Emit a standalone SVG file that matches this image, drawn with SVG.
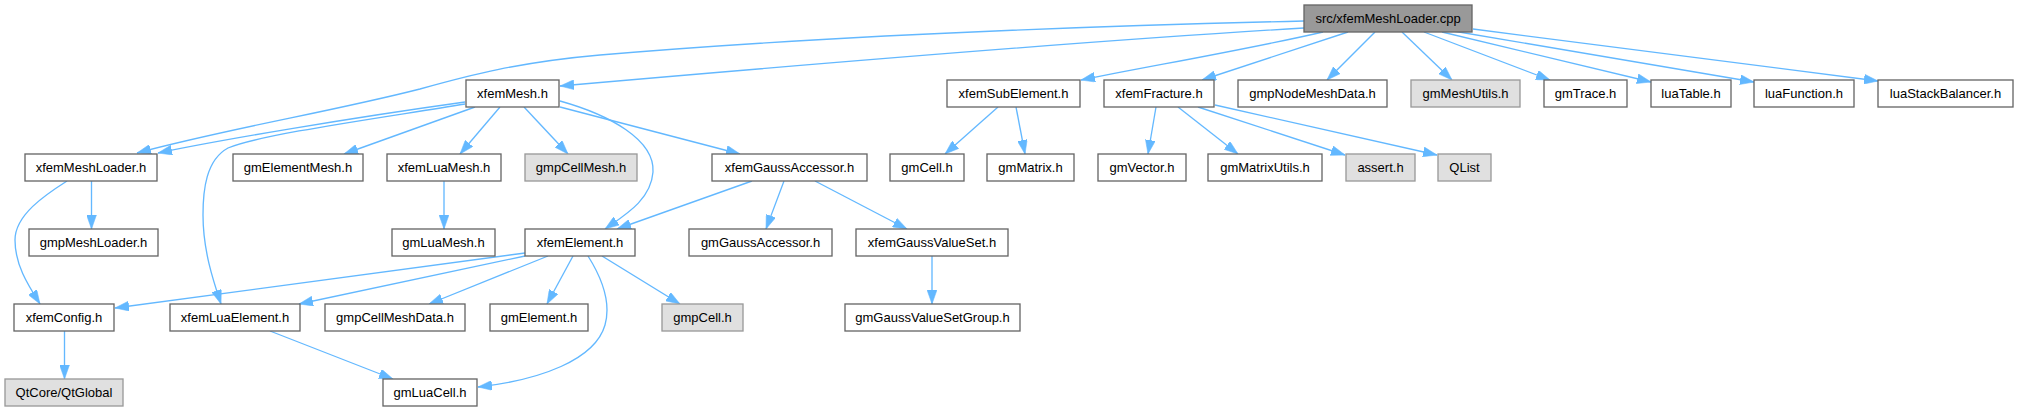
<svg xmlns="http://www.w3.org/2000/svg" width="2018" height="411" viewBox="0 0 2018 411">
<style>
.n rect{fill:#ffffff;stroke:#666666;stroke-width:1.33}
.n.ext rect{fill:#e0e0e0;stroke:#999999}
.n.root rect{fill:#999999;stroke:#666666}
.n text{font-family:"Liberation Sans",Arial,sans-serif;font-size:13px;fill:#000000;text-anchor:middle}
#edges path{fill:none;stroke:#63b8ff;stroke-width:1.33;marker-end:url(#arr)}
</style>
<defs>
<marker id="arr" markerUnits="userSpaceOnUse" markerWidth="14" markerHeight="10" viewBox="0 0 13.3 9.4" refX="13.3" refY="4.7" orient="auto">
<path d="M0,0 L13.3,4.7 L0,9.4 z" fill="#63b8ff" stroke="#63b8ff" stroke-width="0.5"/>
</marker>
</defs>
<rect width="2018" height="411" fill="#ffffff"/>
<g id="edges">
<path d="M1304,21 C1050,27 800,38 600,55 C520,62 470,75 420,89 C330,112 230,128 137,153"/>
<path d="M1304,28 C1100,40 800,65 560,86"/>
<path d="M1323,32 C1250,49 1150,66 1081,80"/>
<path d="M1348,32 L1202,80"/>
<path d="M1375,32 L1327,80"/>
<path d="M1402,32 L1452,80"/>
<path d="M1424,32 L1550,80"/>
<path d="M1442,32 L1651,82"/>
<path d="M1453,31 L1754,82"/>
<path d="M1473,29 L1878,81"/>
<path d="M465,102 C350,118 220,140 158,153"/>
<path d="M465,104 C380,118 262,134 228,148 C206,160 203,190 203,215 C203,250 213,280 221,304"/>
<path d="M475,107 L344,154"/>
<path d="M500,107 L460,154"/>
<path d="M524,107 L568,154"/>
<path d="M560,101 C610,115 655,140 653,172 C651,200 625,215 605,229"/>
<path d="M560,107 L740,154"/>
<path d="M91.5,181 L91.5,229"/>
<path d="M67,181 C45,195 15,215 15,240 C15,265 28,285 40,304"/>
<path d="M444,181 L444,229"/>
<path d="M752,181 L617,229"/>
<path d="M784,181 L766,229"/>
<path d="M815,181 L907,229"/>
<path d="M998,107 L945,154"/>
<path d="M1016,107 L1025,154"/>
<path d="M1156,107 L1148,154"/>
<path d="M1178,107 L1238,154"/>
<path d="M1198,107 L1345,155"/>
<path d="M1215,105 L1437,155"/>
<path d="M525,253 L115,308"/>
<path d="M525,256 L299,304"/>
<path d="M548,256 L429,304"/>
<path d="M573,256 L547,304"/>
<path d="M602,256 L680,304"/>
<path d="M588,256 C600,275 612,300 605,325 C595,360 540,380 478,387"/>
<path d="M270,331 L393,379"/>
<path d="M64.5,331 L64.5,379"/>
<path d="M932,256 L932,304"/>
</g>
<g id="node-root" class="n root"><rect x="1304" y="5" width="168" height="27"/><text x="1388" y="23">src/xfemMeshLoader.cpp</text></g>
<g id="node-xfemMesh" class="n"><rect x="466" y="80" width="93" height="27"/><text x="512.5" y="98">xfemMesh.h</text></g>
<g id="node-xfemSubElement" class="n"><rect x="947" y="80" width="133" height="27"/><text x="1013.5" y="98">xfemSubElement.h</text></g>
<g id="node-xfemFracture" class="n"><rect x="1104" y="80" width="110" height="27"/><text x="1159" y="98">xfemFracture.h</text></g>
<g id="node-gmpNodeMeshData" class="n"><rect x="1238" y="80" width="149" height="27"/><text x="1312.5" y="98">gmpNodeMeshData.h</text></g>
<g id="node-gmMeshUtils" class="n ext"><rect x="1411" y="80" width="109" height="27"/><text x="1465.5" y="98">gmMeshUtils.h</text></g>
<g id="node-gmTrace" class="n"><rect x="1544" y="80" width="83" height="27"/><text x="1585.5" y="98">gmTrace.h</text></g>
<g id="node-luaTable" class="n"><rect x="1651" y="80" width="80" height="27"/><text x="1691" y="98">luaTable.h</text></g>
<g id="node-luaFunction" class="n"><rect x="1754" y="80" width="100" height="27"/><text x="1804" y="98">luaFunction.h</text></g>
<g id="node-luaStackBalancer" class="n"><rect x="1878" y="80" width="135" height="27"/><text x="1945.5" y="98">luaStackBalancer.h</text></g>
<g id="node-xfemMeshLoader" class="n"><rect x="25" y="154" width="132" height="27"/><text x="91" y="172">xfemMeshLoader.h</text></g>
<g id="node-gmElementMesh" class="n"><rect x="233" y="154" width="130" height="27"/><text x="298" y="172">gmElementMesh.h</text></g>
<g id="node-xfemLuaMesh" class="n"><rect x="387" y="154" width="114" height="27"/><text x="444" y="172">xfemLuaMesh.h</text></g>
<g id="node-gmpCellMesh" class="n ext"><rect x="525" y="154" width="112" height="27"/><text x="581" y="172">gmpCellMesh.h</text></g>
<g id="node-xfemGaussAccessor" class="n"><rect x="712" y="154" width="155" height="27"/><text x="789.5" y="172">xfemGaussAccessor.h</text></g>
<g id="node-gmCell" class="n"><rect x="890" y="154" width="74" height="27"/><text x="927" y="172">gmCell.h</text></g>
<g id="node-gmMatrix" class="n"><rect x="987" y="154" width="87" height="27"/><text x="1030.5" y="172">gmMatrix.h</text></g>
<g id="node-gmVector" class="n"><rect x="1098" y="154" width="88" height="27"/><text x="1142" y="172">gmVector.h</text></g>
<g id="node-gmMatrixUtils" class="n"><rect x="1208" y="154" width="114" height="27"/><text x="1265" y="172">gmMatrixUtils.h</text></g>
<g id="node-assert" class="n ext"><rect x="1346" y="154" width="69" height="27"/><text x="1380.5" y="172">assert.h</text></g>
<g id="node-QList" class="n ext"><rect x="1438" y="154" width="53" height="27"/><text x="1464.5" y="172">QList</text></g>
<g id="node-gmpMeshLoader" class="n"><rect x="29" y="229" width="129" height="27"/><text x="93.5" y="247">gmpMeshLoader.h</text></g>
<g id="node-gmLuaMesh" class="n"><rect x="392" y="229" width="103" height="27"/><text x="443.5" y="247">gmLuaMesh.h</text></g>
<g id="node-xfemElement" class="n"><rect x="525" y="229" width="110" height="27"/><text x="580" y="247">xfemElement.h</text></g>
<g id="node-gmGaussAccessor" class="n"><rect x="689" y="229" width="143" height="27"/><text x="760.5" y="247">gmGaussAccessor.h</text></g>
<g id="node-xfemGaussValueSet" class="n"><rect x="856" y="229" width="152" height="27"/><text x="932" y="247">xfemGaussValueSet.h</text></g>
<g id="node-xfemConfig" class="n"><rect x="14" y="304" width="100" height="27"/><text x="64" y="322">xfemConfig.h</text></g>
<g id="node-xfemLuaElement" class="n"><rect x="170" y="304" width="130" height="27"/><text x="235" y="322">xfemLuaElement.h</text></g>
<g id="node-gmpCellMeshData" class="n"><rect x="325" y="304" width="140" height="27"/><text x="395" y="322">gmpCellMeshData.h</text></g>
<g id="node-gmElement" class="n"><rect x="490" y="304" width="98" height="27"/><text x="539" y="322">gmElement.h</text></g>
<g id="node-gmpCell" class="n ext"><rect x="662" y="304" width="81" height="27"/><text x="702.5" y="322">gmpCell.h</text></g>
<g id="node-gmGaussValueSetGroup" class="n"><rect x="845" y="304" width="175" height="27"/><text x="932.5" y="322">gmGaussValueSetGroup.h</text></g>
<g id="node-QtGlobal" class="n ext"><rect x="5" y="379" width="118" height="27"/><text x="64" y="397">QtCore/QtGlobal</text></g>
<g id="node-gmLuaCell" class="n"><rect x="383" y="379" width="94" height="27"/><text x="430" y="397">gmLuaCell.h</text></g>
</svg>
